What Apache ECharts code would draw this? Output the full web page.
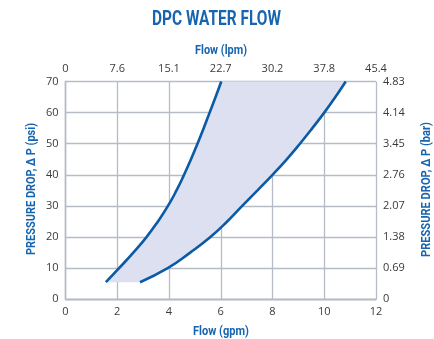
<!DOCTYPE html>
<html>
<head>
<meta charset="utf-8">
<script src="https://cdn.jsdelivr.net/npm/echarts@6/dist/echarts.min.js"></script>
<style>
  html, body { margin: 0; padding: 0; background: #ffffff; }
  #chart { width: 434px; height: 339px; }
</style>
</head>
<body>
<div id="chart"></div>
<script>
// Pressure drop (psi) versus flow (gpm): lower and upper bounding curves
var lowFlow  = [1.56, 2.07, 2.62, 3.13, 3.57, 3.96, 4.29, 4.58, 4.85, 5.10, 5.34, 5.57, 5.80, 6.02];
var lowPsi   = [5.5, 10, 15, 20, 25, 30, 35, 40, 45, 50, 55, 60, 65, 70];
var highFlow = [2.88, 3.95, 4.82, 5.60, 6.25, 6.83, 7.42, 8.00, 8.55, 9.06, 9.54, 10.00, 10.43, 10.83];
var highPsi  = [5.5, 10, 15, 20, 25, 30, 35, 40, 45, 50, 55, 60, 65, 70];

// Tick labels for the secondary (metric) axes
var lpmLabels = ['0', '7.6', '15.1', '22.7', '30.2', '37.8', '45.4'];
var barLabels = ['0', '0.69', '1.38', '2.07', '2.76', '3.45', '4.14', '4.83'];

var BLUE = '#0b5aa6';
var TEXT_BLUE = '#1764b0';
var GRID = '#b6bcc5';
var HEAD_FONT = 'Roboto, "DejaVu Sans", sans-serif';

function pairs(xs, ys) {
  return xs.map(function (x, i) { return [x, ys[i]]; });
}

var lowCurve = pairs(lowFlow, lowPsi);
var highCurve = pairs(highFlow, highPsi);
// Closed band: up the low curve, back down the high curve
var band = lowCurve.concat(highCurve.slice().reverse());

// Headings use a condensed look: squeeze a bold face horizontally to a set width
var measureCtx = document.createElement('canvas').getContext('2d');
function squeezed(text, size, width, x, y, rotation) {
  var font = 'bold ' + size + 'px ' + HEAD_FONT;
  measureCtx.font = font;
  var w = measureCtx.measureText(text).width;
  return {
    type: 'text',
    x: x, y: y,
    rotation: rotation || 0,
    scaleX: width / w,
    silent: true,
    style: { text: text, font: font, fill: TEXT_BLUE, align: 'center', verticalAlign: 'middle' }
  };
}

var chart = echarts.init(document.getElementById('chart'), null, { renderer: 'canvas' });

var labelStyle = { color: '#3a3a3a', fontFamily: '"Open Sans", "DejaVu Sans", sans-serif', fontSize: 11 };
var axisLineStyle = { show: true, lineStyle: { color: GRID, width: 1.3 } };

chart.setOption({
  animation: false,
  backgroundColor: '#ffffff',
  graphic: [
    squeezed('DPC WATER FLOW', 21, 129, 216.5, 20),
    squeezed('Flow (lpm)', 12.5, 52, 221, 51),
    squeezed('Flow (gpm)', 12.5, 56, 221, 331.5),
    squeezed('PRESSURE DROP, \u0394 P (psi)', 12.5, 132, 32, 189, Math.PI / 2),
    squeezed('PRESSURE DROP, \u0394 P (bar)', 12.5, 135, 427, 189.5, Math.PI / 2)
  ],
  grid: { left: 65.5, right: 58, top: 81.5, bottom: 39.7, outerBoundsMode: 'none', containLabel: false },
  xAxis: [
    {
      type: 'value', position: 'bottom', min: 0, max: 12, interval: 2,
      axisLine: axisLineStyle, axisTick: { show: false },
      axisLabel: Object.assign({ margin: 7 }, labelStyle),
      splitLine: { show: true, lineStyle: { color: GRID, width: 1.3 } }
    },
    {
      type: 'value', position: 'top', min: 0, max: 12, interval: 2,
      axisLine: axisLineStyle, axisTick: { show: false },
      axisLabel: Object.assign({
        margin: 7,
        formatter: function (v) { return lpmLabels[Math.round(v / 2)]; }
      }, labelStyle),
      splitLine: { show: false }
    }
  ],
  yAxis: [
    {
      type: 'value', position: 'left', min: 0, max: 70, interval: 10,
      axisLine: axisLineStyle, axisTick: { show: false },
      axisLabel: Object.assign({ margin: 7 }, labelStyle),
      splitLine: { show: true, lineStyle: { color: GRID, width: 1.3 } }
    },
    {
      type: 'value', position: 'right', min: 0, max: 70, interval: 10,
      axisLine: axisLineStyle, axisTick: { show: false },
      axisLabel: Object.assign({
        margin: 7,
        formatter: function (v) { return barLabels[Math.round(v / 10)]; }
      }, labelStyle),
      splitLine: { show: false }
    }
  ],
  series: [
    {
      type: 'custom',
      xAxisIndex: 0, yAxisIndex: 0,
      data: band,
      silent: true,
      z: 1,
      renderItem: function (params, api) {
        if (params.dataIndex !== 0) return null;
        var pts = band.map(function (p) { return api.coord(p); });
        return {
          type: 'polygon',
          shape: { points: pts },
          style: { fill: '#dde0f0', stroke: null }
        };
      }
    },
    {
      type: 'line', xAxisIndex: 0, yAxisIndex: 0,
      data: lowCurve, smooth: 0.5, showSymbol: false, z: 3,
      lineStyle: { color: BLUE, width: 2.6, cap: 'butt' }
    },
    {
      type: 'line', xAxisIndex: 0, yAxisIndex: 0,
      data: highCurve, smooth: 0.5, showSymbol: false, z: 3,
      lineStyle: { color: BLUE, width: 2.6, cap: 'butt' }
    }
  ]
});
</script>
</body>
</html>
